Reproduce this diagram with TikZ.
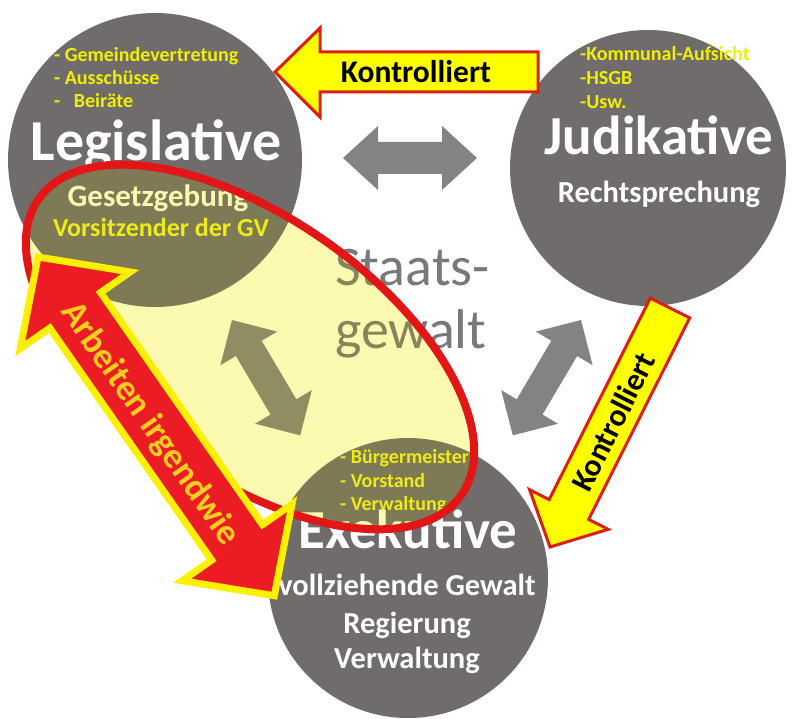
\documentclass[tikz,border=0pt]{standalone}
\usepackage{fontspec}
\setmainfont{Carlito}
\definecolor{circ}{RGB}{112,108,108}
\definecolor{garrow}{RGB}{132,130,130}
\definecolor{stext}{RGB}{122,120,120}
\definecolor{subyel}{RGB}{240,240,0}
\definecolor{pale}{RGB}{252,250,176}
\definecolor{ellred}{RGB}{226,22,22}
\definecolor{arrred}{RGB}{236,28,36}
\definecolor{arryel}{RGB}{255,240,0}
\definecolor{arrtxt}{RGB}{255,205,30}
\definecolor{kyel}{RGB}{255,255,0}
\definecolor{kred}{RGB}{220,30,20}
\newcommand{\dblarrow}[8]{%
\begin{scope}[shift={(#1,#2)},rotate=#3]
\path[#8] (0,0) -- (#5,#6) -- (#5,#7) -- ({#4-#5},#7) -- ({#4-#5},#6) -- (#4,0) -- ({#4-#5},-#6) -- ({#4-#5},-#7) -- (#5,-#7) -- (#5,-#6) -- cycle;
\end{scope}}
\tikzset{
  pcircle/.style={circle, fill=circ, inner sep=0pt},
  bigtitle/.style={anchor=base, inner sep=0pt, text=white, font=\bfseries\fontsize{55}{58}\selectfont},
  subtitle/.style={anchor=base, inner sep=0pt, text=white, font=\bfseries\fontsize{30.5}{33}\selectfont},
  subitem/.style={anchor=base west, inner sep=0pt, text=subyel, font=\bfseries\fontsize{20}{22}\selectfont},
  staats/.style={anchor=base west, inner sep=0pt, text=stext, font=\fontsize{56}{60}\selectfont},
  grayarrow/.style={fill=garrow},
  ktext/.style={inner sep=0pt, text=black, font=\bfseries\fontsize{31.5}{34}\selectfont},
  kontarrow/.style={fill=kyel, draw=kred, line width=3pt, line join=miter},
  hlellipse/.style={rotate around={-35:(250,347)}}
}
\begin{document}
\begin{tikzpicture}[x=1pt,y=-1pt]
\useasboundingbox (0,0) rectangle (792,719);
\fill[white] (0,0) rectangle (792,719);
% circles
\node[pcircle, minimum size=294pt] (leg) at (155,160) {};
\node[pcircle, minimum size=276pt] (jud) at (648,168) {};
\node[pcircle, minimum size=280pt] (exe) at (408,578) {};
% gray double arrows
\dblarrow{343}{158}{0}{134}{35}{32}{16}{grayarrow}
\dblarrow{232}{320}{-59.4}{134}{33}{33}{15}{grayarrow}
\dblarrow{581}{320}{-120.6}{134}{33}{33}{15}{grayarrow}
% Staatsgewalt
\node[staats] (st1) at (335,285) {Staats-};
\node[staats] (st2) at (335,348) {gewalt};
% Legislative texts
\node[subitem] (l1) at (54,62) {- Gemeindevertretung};
\node[subitem] (l2) at (54,85) {- Ausschüsse};
\node[subitem] (l3) at (54,108) {-\ \ \ Beiräte};
\node[bigtitle, font=\bfseries\fontsize{58}{60}\selectfont] (lt) at (156,161) {Legislative};
\node[subtitle, font=\bfseries\fontsize{31}{33}\selectfont] (lg) at (158,207) {Gesetzgebung};
\node[anchor=base, inner sep=0pt, text=subyel, font=\bfseries\fontsize{26}{28}\selectfont] (lv) at (161,237) {Vorsitzender der GV};
% Judikative texts
\node[subitem] (j1) at (580,61) {-Kommunal-Aufsicht};
\node[subitem] (j2) at (580,85) {-HSGB};
\node[subitem] (j3) at (580,109) {-Usw.};
\node[bigtitle] (jt) at (659,155) {Judikative};
\node[subtitle] (jr) at (659,203) {Rechtsprechung};
% Exekutive texts
\node[subitem] (e1) at (340,463) {- Bürgermeister};
\node[subitem] (e2) at (340,487) {- Vorstand};
\node[subitem] (e3) at (340,510) {- Verwaltung};
\node[bigtitle] (et) at (408,548) {Exekutive};
\node[subtitle] (ev) at (407,595) {vollziehende Gewalt};
\node[subtitle] (er) at (407,633) {Regierung};
\node[subtitle] (ew) at (407,668) {Verwaltung};
% highlight ellipse
\begin{scope}[blend mode=multiply]
\fill[pale, hlellipse] (250,347) ellipse [x radius=258pt, y radius=130pt];
\end{scope}
\fill[pale, fill opacity=0.12, hlellipse] (250,347) ellipse [x radius=258pt, y radius=130pt];
\draw[ellred, line width=8pt, hlellipse] (250,347) ellipse [x radius=258pt, y radius=130pt];
% red double arrow
\dblarrow{38}{257}{-55.1}{413}{65}{67}{31}{fill=arrred, draw=arryel, line width=7pt, line join=miter}
\node[rotate=-55.1, inner sep=0pt, text=arrtxt, font=\bfseries\fontsize{36}{38}\selectfont] (arb) at (150,424) {Arbeiten irgendwie};
% Kontrolliert arrows
\path[kontarrow] (275,72) -- (320,28) -- (320,52) -- (538,52) -- (538,92) -- (320,92) -- (320,117) -- cycle;
\node[ktext] (k1) at (416,72) {Kontrolliert};
\path[kontarrow] (650.3,298.1) -- (689.7,317.9) -- (588.6,519.4) -- (608.2,529.3) -- (550,547) -- (529.6,489.7) -- (549.2,499.6) -- cycle;
\node[ktext, rotate=63.3] (k2) at (613,422) {Kontrolliert};
\end{tikzpicture}
\end{document}
